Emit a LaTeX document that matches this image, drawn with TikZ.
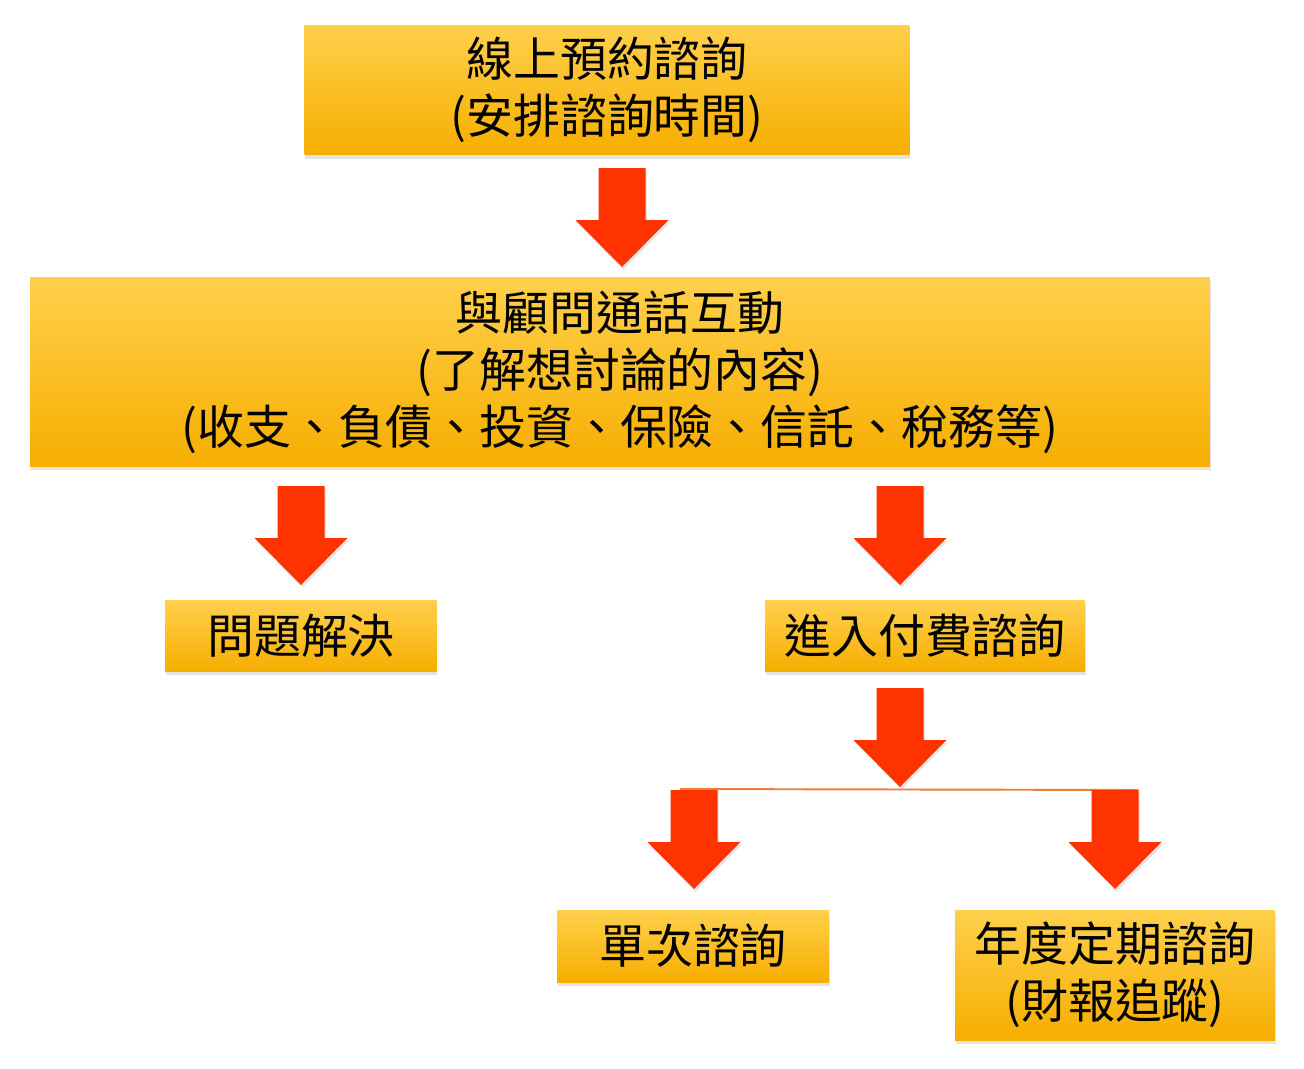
\documentclass[tikz,border=0pt]{standalone}
\usepackage{fontspec}
\newfontfamily\cjk{Noto Sans CJK TC}
\usetikzlibrary{shadows}

\definecolor{boxtop}{HTML}{FFD04C}
\definecolor{boxmid}{HTML}{FFC000}
\definecolor{boxbot}{HTML}{F6AE00}
\definecolor{arrowred}{HTML}{FF3300}
\definecolor{splitorange}{HTML}{EE7D31}

\tikzset{
  stepbox/.style={rectangle, inner sep=0pt, align=center,
    top color=boxtop, middle color=boxmid, bottom color=boxbot,
    drop shadow={shadow xshift=0.4pt, shadow yshift=-2pt, opacity=0.22},
    font=\cjk\fontsize{26.7}{32.4}\selectfont},
  downarr/.pic={
    \fill[arrowred, drop shadow={shadow xshift=0.8pt, shadow yshift=-1.5pt, opacity=0.2}]
      (-23.5,0) -- (-23.5,52) -- (-46.5,52) -- (0,99) -- (46.5,52)
      -- (23.5,52) -- (23.5,0) -- cycle;
  },
}

\begin{document}
\begin{tikzpicture}[x=0.02cm, y=-0.02cm]
  \useasboundingbox (0,0) rectangle (1304,1068);

  % boxes
  \node [stepbox, minimum width=12.1cm, minimum height=2.6cm] (book) at (607,90)
    {線上預約諮詢\\(安排諮詢時間)};
  \node [stepbox, minimum width=23.6cm, minimum height=3.78cm] (call) at (620,372)
    {與顧問通話互動\\(了解想討論的內容)\\(收支、負債、投資、保險、信託、稅務等)};
  \node [stepbox, minimum width=5.42cm, minimum height=1.42cm] (solved) at (301,636)
    {問題解決};
  \node [stepbox, minimum width=6.4cm, minimum height=1.42cm] (paid) at (925,636)
    {進入付費諮詢};
  \node [stepbox, minimum width=5.44cm, minimum height=1.44cm] (single) at (693,946)
    {單次諮詢};
  \node [stepbox, minimum width=6.4cm, minimum height=2.6cm] (yearly) at (1115,975)
    {年度定期諮詢\\(財報追蹤)};

  % arrows
  \pic at (622,168) {downarr};
  \pic at (301,486) {downarr};
  \pic at (900,486) {downarr};
  \pic at (900,688) {downarr};

  \coordinate (split-l) at (680,789);
  \coordinate (split-r) at (1138,790);
  \draw [splitorange, line width=1.1pt] (split-l) -- (split-r);

  \pic at (694,790) {downarr};
  \pic at (1115,790) {downarr};
\end{tikzpicture}
\end{document}
